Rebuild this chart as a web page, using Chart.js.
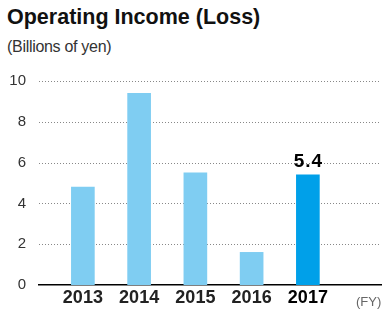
<!DOCTYPE html>
<html>
<head>
<meta charset="utf-8">
<script src="https://cdn.jsdelivr.net/npm/chart.js@4/dist/chart.umd.min.js"></script>
<style>
  html, body { margin: 0; padding: 0; background: #fff; }
  #wrap { position: relative; width: 385px; height: 317px; overflow: hidden; }
  #title { position: absolute; left: 7px; top: 5px; font: bold 21.5px "Liberation Sans", Arial, sans-serif; color: #111; }
  #sub { position: absolute; left: 7px; top: 38px; font: 16px "Liberation Sans", Arial, sans-serif; color: #333; letter-spacing: -0.3px; }
  canvas { position: absolute; left: 0; top: 0; }
</style>
</head>
<body>
<div id="wrap">
  <div id="title">Operating Income (Loss)</div>
  <div id="sub">(Billions of yen)</div>
  <canvas id="c" width="385" height="317"></canvas>
</div>
<script>
  const years = [2013, 2014, 2015, 2016, 2017];
  const income = [4.8, 9.4, 5.5, 1.6, 5.4];
  const unitLabel = "(FY)";
  const unitYear = 2018;
  const highlightYear = 2017;
  const highlightText = "5.4";

  const LIGHT = "#7fcdf2";
  const DARK = "#00a0e9";
  const FONT = '"Liberation Sans", Arial, sans-serif';

  function tickVal(c) {
    return c && c.tick ? c.tick.value : null;
  }

  // dotted horizontal gridlines, taken from the y scale ticks
  const dottedGrid = {
    id: "dottedGrid",
    beforeDatasetsDraw(chart) {
      const ys = chart.scales.y;
      const area = chart.chartArea;
      const ctx = chart.ctx;
      ctx.save();
      ctx.strokeStyle = "#888";
      ctx.lineWidth = 1;
      ctx.setLineDash([1, 2]);
      ys.ticks.forEach((t) => {
        if (t.value === 0) return;
        const y = Math.round(ys.getPixelForValue(t.value)) + 0.5;
        ctx.beginPath();
        ctx.moveTo(area.left, y);
        ctx.lineTo(area.right, y);
        ctx.stroke();
      });
      ctx.restore();
    },
  };

  const valueLabel = {
    id: "valueLabel",
    afterDatasetsDraw(chart) {
      const idx = years.indexOf(highlightYear);
      const bar = chart.getDatasetMeta(0).data[idx];
      const ctx = chart.ctx;
      if (bar) {
        ctx.save();
        ctx.font = "bold 19px " + FONT;
        ctx.letterSpacing = "1px";
        ctx.fillStyle = "#000";
        ctx.textAlign = "center";
        ctx.textBaseline = "alphabetic";
        ctx.fillText(highlightText, bar.x + 0.5, bar.y - 8);
        ctx.restore();
      }
      // unit label after the last year
      const xs = chart.scales.x;
      ctx.save();
      ctx.font = "13px " + FONT;
      ctx.fillStyle = "#666";
      ctx.textAlign = "center";
      ctx.textBaseline = "middle";
      ctx.fillText(unitLabel, xs.getPixelForValue(unitYear) + 4.5, xs.top + 17);
      ctx.restore();
    },
  };

  new Chart(document.getElementById("c"), {
    type: "bar",
    data: {
      datasets: [{
        data: years.map((y, i) => ({ x: y, y: income[i] })),
        backgroundColor: years.map((y) => (y === highlightYear ? DARK : LIGHT)),
        barThickness: 23,
        borderWidth: 0,
      }],
    },
    options: {
      responsive: false,
      animation: false,
      layout: { padding: { top: 81, right: 4, left: 0, bottom: 0 } },
      plugins: { legend: { display: false }, tooltip: { enabled: false } },
      scales: {
        x: {
          type: "linear",
          offset: false,
          min: 2012.22,
          max: 2018.3,
          grid: { display: false, drawOnChartArea: false, drawTicks: false },
          border: { display: true, color: "#000", width: 1.5 },
          afterFit: (s) => { s.height = 32; },
          ticks: {
            stepSize: 1,
            includeBounds: false,
            autoSkip: false,
            maxRotation: 0,
            padding: 2,
            callback: (v) => (years.includes(v) ? String(v) : ""),
            color: (c) => (tickVal(c) === highlightYear ? "#000" : "#222"),
            font: { family: FONT, size: 18, weight: "bold" },
          },
        },
        y: {
          min: 0,
          max: 10,
          afterFit: (s) => { s.width = 39; },
          border: { display: false },
          grid: { display: false },
          ticks: {
            stepSize: 2,
            padding: 5,
            color: "#333",
            font: { family: FONT, size: 15 },
          },
        },
      },
    },
    plugins: [dottedGrid, valueLabel],
  });
</script>
</body>
</html>
